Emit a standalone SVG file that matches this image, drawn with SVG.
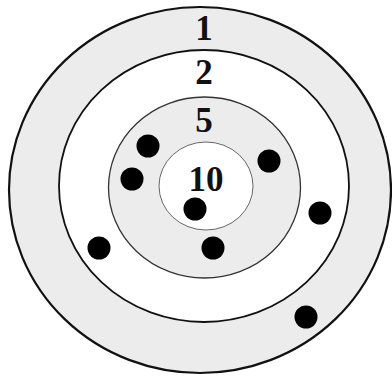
<svg xmlns="http://www.w3.org/2000/svg" width="392" height="377" viewBox="0 0 392 377">
<style>
.lbl{font-family:"Liberation Serif","Times New Roman",serif;font-weight:bold;font-size:35px;fill:#111;text-anchor:middle}
.dot{fill:#000}
</style>
<rect width="392" height="377" fill="#fff"/>
<g id="ring1"><ellipse cx="200" cy="190" rx="191" ry="183" fill="#ececec" stroke="#111" stroke-width="2.2"/></g>
<g id="ring2"><ellipse cx="204" cy="186" rx="145" ry="136" fill="#fff" stroke="#111" stroke-width="1.8"/></g>
<g id="ring5"><ellipse cx="204.5" cy="187.5" rx="96" ry="90.5" fill="#ececec" stroke="#333" stroke-width="1.3"/></g>
<g id="ring10"><ellipse cx="206" cy="186" rx="47" ry="44" fill="#fff" stroke="#666" stroke-width="1"/></g>
<g id="labels">
<text class="lbl" x="204" y="40">1</text>
<text class="lbl" x="204" y="84">2</text>
<text class="lbl" x="204" y="132">5</text>
<text class="lbl" x="206" y="191">10</text>
</g>
<g id="hits">
<circle class="dot" cx="148" cy="146" r="11.5"/>
<circle class="dot" cx="132" cy="179" r="11.5"/>
<circle class="dot" cx="269" cy="161" r="11.5"/>
<circle class="dot" cx="195" cy="209" r="11.5"/>
<circle class="dot" cx="320" cy="213" r="11.5"/>
<circle class="dot" cx="99" cy="248" r="11.5"/>
<circle class="dot" cx="213" cy="248" r="11.5"/>
<circle class="dot" cx="306" cy="317" r="11.5"/>
</g>
</svg>
